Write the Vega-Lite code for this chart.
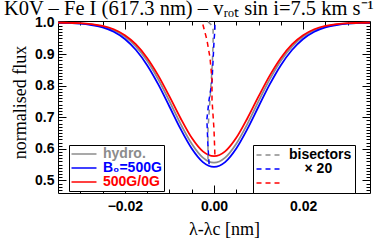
{
  "$schema": "https://vega.github.io/schema/vega-lite/v6.json",
  "width": 312,
  "height": 172,
  "autosize": {"type": "none"},
  "padding": {"left": 58, "top": 21, "right": 17, "bottom": 53},
  "background": "white",
  "title": {
    "text": "K0V – Fe I (617.3 nm) – vᵣₒₜ sin i=7.5 km s⁻¹",
    "anchor": "start",
    "frame": "group",
    "dx": -54,
    "dy": 4,
    "offset": 0,
    "baseline": "top",
    "font": "Liberation Serif",
    "fontSize": 20.5,
    "fontWeight": "normal",
    "color": "black"
  },
  "config": {
    "view": {"stroke": null},
    "axis": {
      "domainColor": "black",
      "domainWidth": 1,
      "tickColor": "black",
      "tickWidth": 1,
      "grid": false,
      "labelFont": "Liberation Sans",
      "labelFontSize": 14,
      "labelFontWeight": "bold",
      "labelColor": "black",
      "labelOverlap": false,
      "labelFlush": false,
      "titleFont": "Liberation Serif",
      "titleFontSize": 18,
      "titleFontWeight": "normal",
      "titleColor": "black"
    },
    "legend": {
      "labelFont": "Liberation Sans",
      "labelFontSize": 14,
      "labelFontWeight": "bold"
    }
  },
  "datasets": {
    "profiles": [
      {"model": "hydro.", "lam": -0.035, "flux": 1.0},
      {"model": "hydro.", "lam": -0.0325, "flux": 0.999},
      {"model": "hydro.", "lam": -0.03, "flux": 0.9976},
      {"model": "hydro.", "lam": -0.0275, "flux": 0.994},
      {"model": "hydro.", "lam": -0.025, "flux": 0.988},
      {"model": "hydro.", "lam": -0.0225, "flux": 0.976},
      {"model": "hydro.", "lam": -0.02, "flux": 0.956},
      {"model": "hydro.", "lam": -0.0175, "flux": 0.924},
      {"model": "hydro.", "lam": -0.015, "flux": 0.879},
      {"model": "hydro.", "lam": -0.0125, "flux": 0.82},
      {"model": "hydro.", "lam": -0.01, "flux": 0.751},
      {"model": "hydro.", "lam": -0.0075, "flux": 0.679},
      {"model": "hydro.", "lam": -0.005, "flux": 0.616},
      {"model": "hydro.", "lam": -0.0025, "flux": 0.572},
      {"model": "hydro.", "lam": 0.0, "flux": 0.556},
      {"model": "hydro.", "lam": 0.0025, "flux": 0.572},
      {"model": "hydro.", "lam": 0.005, "flux": 0.616},
      {"model": "hydro.", "lam": 0.0075, "flux": 0.679},
      {"model": "hydro.", "lam": 0.01, "flux": 0.751},
      {"model": "hydro.", "lam": 0.0125, "flux": 0.82},
      {"model": "hydro.", "lam": 0.015, "flux": 0.879},
      {"model": "hydro.", "lam": 0.0175, "flux": 0.924},
      {"model": "hydro.", "lam": 0.02, "flux": 0.956},
      {"model": "hydro.", "lam": 0.0225, "flux": 0.976},
      {"model": "hydro.", "lam": 0.025, "flux": 0.988},
      {"model": "hydro.", "lam": 0.0275, "flux": 0.994},
      {"model": "hydro.", "lam": 0.03, "flux": 0.9976},
      {"model": "hydro.", "lam": 0.0325, "flux": 0.999},
      {"model": "hydro.", "lam": 0.035, "flux": 1.0},

      {"model": "B₀=500G", "lam": -0.035, "flux": 1.0},
      {"model": "B₀=500G", "lam": -0.0325, "flux": 0.9985},
      {"model": "B₀=500G", "lam": -0.03, "flux": 0.9965},
      {"model": "B₀=500G", "lam": -0.0275, "flux": 0.992},
      {"model": "B₀=500G", "lam": -0.025, "flux": 0.985},
      {"model": "B₀=500G", "lam": -0.0225, "flux": 0.971},
      {"model": "B₀=500G", "lam": -0.02, "flux": 0.948},
      {"model": "B₀=500G", "lam": -0.0175, "flux": 0.913},
      {"model": "B₀=500G", "lam": -0.015, "flux": 0.865},
      {"model": "B₀=500G", "lam": -0.0125, "flux": 0.804},
      {"model": "B₀=500G", "lam": -0.01, "flux": 0.734},
      {"model": "B₀=500G", "lam": -0.0075, "flux": 0.663},
      {"model": "B₀=500G", "lam": -0.005, "flux": 0.601},
      {"model": "B₀=500G", "lam": -0.0025, "flux": 0.558},
      {"model": "B₀=500G", "lam": 0.0, "flux": 0.543},
      {"model": "B₀=500G", "lam": 0.0025, "flux": 0.558},
      {"model": "B₀=500G", "lam": 0.005, "flux": 0.601},
      {"model": "B₀=500G", "lam": 0.0075, "flux": 0.663},
      {"model": "B₀=500G", "lam": 0.01, "flux": 0.734},
      {"model": "B₀=500G", "lam": 0.0125, "flux": 0.804},
      {"model": "B₀=500G", "lam": 0.015, "flux": 0.865},
      {"model": "B₀=500G", "lam": 0.0175, "flux": 0.913},
      {"model": "B₀=500G", "lam": 0.02, "flux": 0.948},
      {"model": "B₀=500G", "lam": 0.0225, "flux": 0.971},
      {"model": "B₀=500G", "lam": 0.025, "flux": 0.985},
      {"model": "B₀=500G", "lam": 0.0275, "flux": 0.992},
      {"model": "B₀=500G", "lam": 0.03, "flux": 0.9965},
      {"model": "B₀=500G", "lam": 0.0325, "flux": 0.9985},
      {"model": "B₀=500G", "lam": 0.035, "flux": 1.0},

      {"model": "500G/0G", "lam": -0.035, "flux": 1.0},
      {"model": "500G/0G", "lam": -0.0325, "flux": 0.999},
      {"model": "500G/0G", "lam": -0.03, "flux": 0.998},
      {"model": "500G/0G", "lam": -0.0275, "flux": 0.995},
      {"model": "500G/0G", "lam": -0.025, "flux": 0.9895},
      {"model": "500G/0G", "lam": -0.0225, "flux": 0.979},
      {"model": "500G/0G", "lam": -0.02, "flux": 0.96},
      {"model": "500G/0G", "lam": -0.0175, "flux": 0.931},
      {"model": "500G/0G", "lam": -0.015, "flux": 0.888},
      {"model": "500G/0G", "lam": -0.0125, "flux": 0.832},
      {"model": "500G/0G", "lam": -0.01, "flux": 0.766},
      {"model": "500G/0G", "lam": -0.0075, "flux": 0.697},
      {"model": "500G/0G", "lam": -0.005, "flux": 0.635},
      {"model": "500G/0G", "lam": -0.0025, "flux": 0.592},
      {"model": "500G/0G", "lam": 0.0, "flux": 0.577},
      {"model": "500G/0G", "lam": 0.0025, "flux": 0.592},
      {"model": "500G/0G", "lam": 0.005, "flux": 0.635},
      {"model": "500G/0G", "lam": 0.0075, "flux": 0.697},
      {"model": "500G/0G", "lam": 0.01, "flux": 0.766},
      {"model": "500G/0G", "lam": 0.0125, "flux": 0.832},
      {"model": "500G/0G", "lam": 0.015, "flux": 0.888},
      {"model": "500G/0G", "lam": 0.0175, "flux": 0.931},
      {"model": "500G/0G", "lam": 0.02, "flux": 0.96},
      {"model": "500G/0G", "lam": 0.0225, "flux": 0.979},
      {"model": "500G/0G", "lam": 0.025, "flux": 0.9895},
      {"model": "500G/0G", "lam": 0.0275, "flux": 0.995},
      {"model": "500G/0G", "lam": 0.03, "flux": 0.998},
      {"model": "500G/0G", "lam": 0.0325, "flux": 0.999},
      {"model": "500G/0G", "lam": 0.035, "flux": 1.0}
    ],
    "bisectors": [
      {"model": "hydro.", "lam": -0.00135, "flux": 0.566},
      {"model": "hydro.", "lam": -0.00135, "flux": 0.661},
      {"model": "hydro.", "lam": -0.0009, "flux": 0.756},
      {"model": "hydro.", "lam": -0.00045, "flux": 0.851},
      {"model": "hydro.", "lam": -0.0002, "flux": 0.93},
      {"model": "hydro.", "lam": -0.0002, "flux": 0.978},
      {"model": "hydro.", "lam": -0.0007, "flux": 0.994},
      {"model": "hydro.", "lam": -0.00135, "flux": 1.003},

      {"model": "B₀=500G", "lam": -0.0011, "flux": 0.551},
      {"model": "B₀=500G", "lam": -0.00135, "flux": 0.608},
      {"model": "B₀=500G", "lam": -0.0016, "flux": 0.693},
      {"model": "B₀=500G", "lam": -0.0011, "flux": 0.756},
      {"model": "B₀=500G", "lam": -0.00045, "flux": 0.813},
      {"model": "B₀=500G", "lam": -0.0002, "flux": 0.883},
      {"model": "B₀=500G", "lam": 0.0, "flux": 0.94},
      {"model": "B₀=500G", "lam": 0.0002, "flux": 0.978},
      {"model": "B₀=500G", "lam": 0.0002, "flux": 0.994},
      {"model": "B₀=500G", "lam": -0.00045, "flux": 1.0},

      {"model": "500G/0G", "lam": 0.0002, "flux": 0.582},
      {"model": "500G/0G", "lam": 0.0, "flux": 0.661},
      {"model": "500G/0G", "lam": -0.00045, "flux": 0.756},
      {"model": "500G/0G", "lam": -0.00045, "flux": 0.82},
      {"model": "500G/0G", "lam": -0.0009, "flux": 0.889},
      {"model": "500G/0G", "lam": -0.0016, "flux": 0.946},
      {"model": "500G/0G", "lam": -0.0025, "flux": 0.994}
    ]
  },
  "layer": [
    {
      "data": {"name": "profiles"},
      "mark": {"type": "line", "strokeWidth": 1.8, "interpolate": "monotone", "clip": true},
      "encoding": {
        "x": {
          "field": "lam",
          "type": "quantitative",
          "scale": {"domain": [-0.035, 0.035], "nice": false, "zero": false},
          "axis": {
            "orient": "bottom",
            "title": "λ-λc [nm]",
            "titlePadding": 3,
            "titleX": 166,
            "values": [-0.03, -0.025, -0.02, -0.015, -0.01, -0.005, 0, 0.005, 0.01, 0.015, 0.02, 0.025, 0.03],
            "labelExpr": "abs(datum.value) < 1e-6 ? '0.00' : (abs(abs(datum.value) - 0.02) < 1e-6 ? format(datum.value, '.2f') : '')",
            "tickSize": {"condition": {"test": "abs(datum.value) < 1e-6 || abs(abs(datum.value) - 0.02) < 1e-6", "value": -8}, "value": -4},
            "labelPadding": 14
          }
        },
        "y": {
          "field": "flux",
          "type": "quantitative",
          "scale": {"domain": [0.46, 1.005], "nice": false, "zero": false},
          "axis": {
            "orient": "left",
            "title": "normalised flux",
            "titlePadding": 5,
            "titleY": 81,
            "values": [0.47, 0.48, 0.49, 0.5, 0.51, 0.52, 0.53, 0.54, 0.55, 0.56, 0.57, 0.58, 0.59, 0.6, 0.61, 0.62, 0.63, 0.64, 0.65, 0.66, 0.67, 0.68, 0.69, 0.7, 0.71, 0.72, 0.73, 0.74, 0.75, 0.76, 0.77, 0.78, 0.79, 0.8, 0.81, 0.82, 0.83, 0.84, 0.85, 0.86, 0.87, 0.88, 0.89, 0.9, 0.91, 0.92, 0.93, 0.94, 0.95, 0.96, 0.97, 0.98, 0.99, 1.0],
            "labelExpr": "abs(datum.value * 10 - round(datum.value * 10)) < 0.001 ? format(datum.value, '.1f') : ''",
            "tickSize": {"condition": {"test": "abs(datum.value * 10 - round(datum.value * 10)) < 0.001", "value": -8}, "value": -4},
            "labelPadding": 12
          }
        },
        "color": {
          "field": "model",
          "type": "nominal",
          "scale": {"domain": ["hydro.", "B₀=500G", "500G/0G"], "range": ["#8c8c8c", "#0000ff", "#ff0000"]},
          "legend": {
            "title": null,
            "orient": "none",
            "legendX": 11,
            "legendY": 124,
            "symbolType": "M-2,0H2",
            "symbolSize": 156,
            "symbolStrokeWidth": 1.5,
            "symbolOffset": 6,
            "labelOffset": 12,
            "labelColor": {"expr": "datum.value == 'hydro.' ? '#8c8c8c' : (datum.value == '500G/0G' ? '#ff0000' : '#0000ff')"},
            "strokeColor": "black",
            "fillColor": "white",
            "padding": 2,
            "rowPadding": -1
          }
        }
      }
    },
    {
      "data": {"name": "bisectors"},
      "mark": {"type": "line", "strokeWidth": 1.5, "strokeDash": [5, 4], "clip": true},
      "encoding": {
        "x": {
          "field": "lam",
          "type": "quantitative",
          "scale": {"domain": [-0.035, 0.035], "nice": false, "zero": false},
          "axis": {
            "orient": "top",
            "title": null,
            "labels": false,
            "values": [-0.03, -0.025, -0.02, -0.015, -0.01, -0.005, 0, 0.005, 0.01, 0.015, 0.02, 0.025, 0.03],
            "tickSize": {"condition": {"test": "abs(datum.value) < 1e-6 || abs(abs(datum.value) - 0.02) < 1e-6", "value": -8}, "value": -4}
          }
        },
        "y": {
          "field": "flux",
          "type": "quantitative",
          "scale": {"domain": [0.46, 1.005], "nice": false, "zero": false},
          "axis": {
            "orient": "right",
            "title": null,
            "labels": false,
            "values": [0.47, 0.48, 0.49, 0.5, 0.51, 0.52, 0.53, 0.54, 0.55, 0.56, 0.57, 0.58, 0.59, 0.6, 0.61, 0.62, 0.63, 0.64, 0.65, 0.66, 0.67, 0.68, 0.69, 0.7, 0.71, 0.72, 0.73, 0.74, 0.75, 0.76, 0.77, 0.78, 0.79, 0.8, 0.81, 0.82, 0.83, 0.84, 0.85, 0.86, 0.87, 0.88, 0.89, 0.9, 0.91, 0.92, 0.93, 0.94, 0.95, 0.96, 0.97, 0.98, 0.99, 1.0],
            "tickSize": {"condition": {"test": "abs(datum.value * 10 - round(datum.value * 10)) < 0.001", "value": -8}, "value": -4}
          }
        },
        "order": {"field": "flux", "type": "quantitative"},
        "color": {
          "field": "model",
          "type": "nominal",
          "scale": {"domain": ["hydro.", "B₀=500G", "500G/0G"], "range": ["#8c8c8c", "#0000ff", "#ff0000"]},
          "legend": {
            "title": null,
            "orient": "none",
            "legendX": 195,
            "legendY": 124,
            "symbolType": "M-2,0H2",
            "symbolSize": 156,
            "symbolStrokeWidth": 1.5,
            "symbolDash": [5, 4],
            "symbolOffset": 6,
            "labelOffset": 13,
            "labelColor": "black",
            "labelExpr": "datum.value == 'hydro.' ? 'bisectors' : (datum.value == 'B₀=500G' ? '\u200b\u00a0\u00a0\u00a0\u00a0× 20' : '')",
            "strokeColor": "black",
            "fillColor": "white",
            "padding": 3,
            "rowPadding": -1
          }
        }
      }
    }
  ],
  "resolve": {
    "scale": {"color": "independent"},
    "axis": {"x": "independent", "y": "independent"}
  }
}
